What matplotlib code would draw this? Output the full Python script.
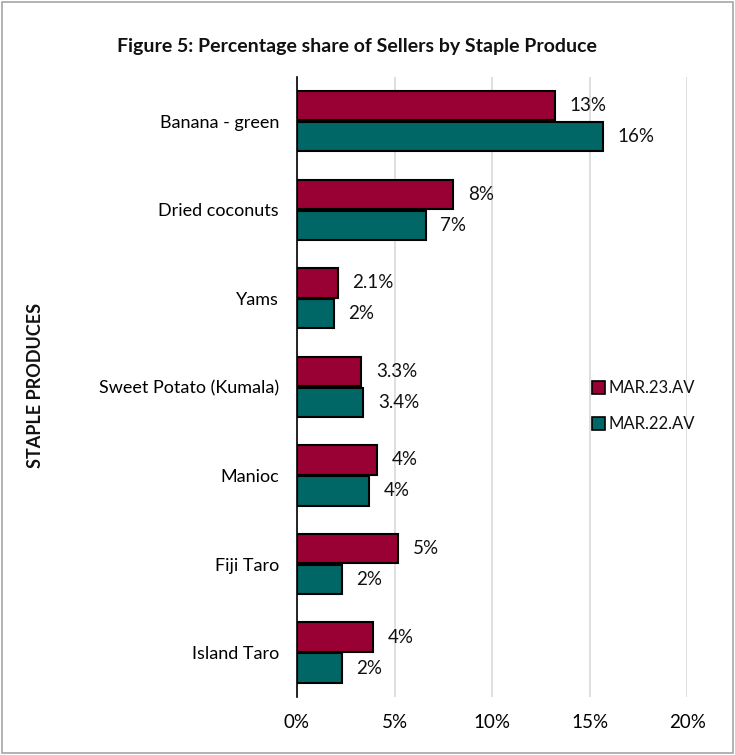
import numpy as np
import matplotlib
matplotlib.use("Agg")
import matplotlib.pyplot as plt
import matplotlib.ticker as ticker
from matplotlib.patches import Rectangle, Patch

# ── data ──────────────────────────────────────────────────────────────────────
produce = ["Banana - green", "Dried coconuts", "Yams", "Sweet Potato (Kumala)",
           "Manioc", "Fiji Taro", "Island Taro"]
mar23 = [13.2, 8.0, 2.1, 3.3, 4.1, 5.2, 3.9]
mar22 = [15.7, 6.6, 1.9, 3.4, 3.7, 2.3, 2.3]
# decimals shown in the data labels
mar23_dec = [0, 0, 1, 1, 0, 0, 0]
mar22_dec = [0, 0, 0, 1, 0, 0, 0]
series_names = ["MAR.23.AV", "MAR.22.AV"]
x_ticks = [0, 5, 10, 15, 20]

red = "#990033"
teal = "#006666"

# ── figure ────────────────────────────────────────────────────────────────────
plt.rcParams.update({
    "font.family": ["Lato", "DejaVu Sans"],
    "font.size": 13,
    "text.color": "#111111",
})

fig = plt.figure(figsize=(7.35, 7.55), dpi=100)
ax = fig.add_axes([0.404, 0.077, 0.531, 0.821])

y = np.arange(len(produce))
h = 0.33
off = 0.175

b23 = ax.barh(y - off, mar23, height=h, color=red, edgecolor="black",
              linewidth=1.5, zorder=3)
b22 = ax.barh(y + off, mar22, height=h, color=teal, edgecolor="black",
              linewidth=1.5, zorder=3)

for bars, vals, decs in [(b23, mar23, mar23_dec), (b22, mar22, mar22_dec)]:
    for bar, v, d in zip(bars, vals, decs):
        ax.annotate("{:.{d}f}%".format(v, d=d),
                    xy=(v, bar.get_y() + bar.get_height() / 2),
                    xytext=(10.5, 0), textcoords="offset points",
                    ha="left", va="center", fontsize=13.5)

ax.set_xlim(0, 20)
ax.set_ylim(len(produce) - 0.5, -0.5)
ax.set_yticks(y)
ax.set_yticklabels(produce, fontsize=13)
ax.xaxis.set_major_locator(ticker.FixedLocator(x_ticks))
ax.xaxis.set_major_formatter(ticker.FuncFormatter(lambda v, p: "{:.0f}%".format(v)))
ax.tick_params(axis="both", length=0)
ax.tick_params(axis="y", pad=13)
ax.tick_params(axis="x", pad=12, labelsize=13.5)

ax.grid(axis="x", color="#d9d9d9", linewidth=1.2, zorder=0)
for s in ["top", "right", "bottom"]:
    ax.spines[s].set_visible(False)
ax.spines["left"].set_color("black")
ax.spines["left"].set_linewidth(1.2)
ax.spines["left"].set_zorder(4)

handles = [Patch(facecolor=red, edgecolor="black", linewidth=1.2),
           Patch(facecolor=teal, edgecolor="black", linewidth=1.2)]
fig.legend(handles, series_names, loc="center left",
           bbox_to_anchor=(0.785, 0.462), frameon=False, fontsize=12,
           handlelength=0.8, handleheight=0.8, handletextpad=0.2,
           labelspacing=1.2)

fig.text(0.486, 0.938, "Figure 5: Percentage share of Sellers by Staple Produce",
         ha="center", va="center", fontsize=14, fontweight="bold")
fig.text(0.048, 0.49, "STAPLE PRODUCES", rotation=90, ha="center", va="center",
         fontsize=13, fontweight="bold")

# chart border
fig.patches.append(Rectangle((0.003, 0.003), 0.994, 0.994, transform=fig.transFigure,
                             fill=False, edgecolor="#a6a6a6", linewidth=1.2))

fig.savefig("out.png", dpi=100)
